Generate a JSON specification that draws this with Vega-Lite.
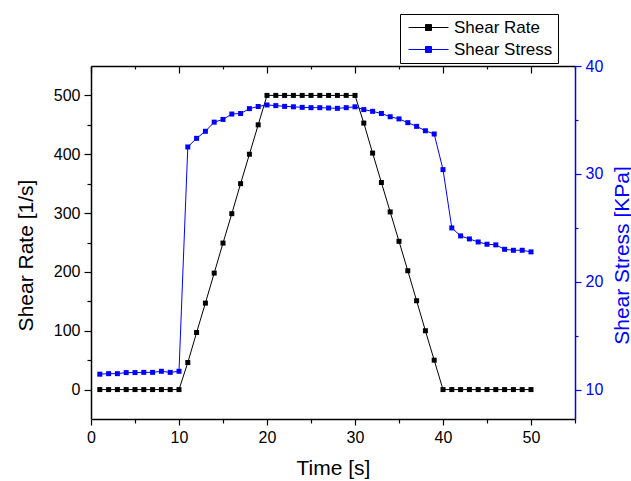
{
  "$schema": "https://vega.github.io/schema/vega-lite/v6.json",
  "width": 484,
  "height": 353,
  "autosize": {"type": "none"},
  "padding": {"left": 91, "top": 66, "right": 56, "bottom": 62},
  "background": "white",
  "config": {
    "font": "Liberation Sans",
    "view": {"stroke": null},
    "axis": {
      "grid": false,
      "labelFont": "Liberation Sans",
      "titleFont": "Liberation Sans",
      "labelFontSize": 16,
      "titleFontSize": 21,
      "titleFontWeight": "normal",
      "labelColor": "black",
      "titleColor": "black",
      "domainColor": "black",
      "tickColor": "black",
      "domainWidth": 1.5,
      "tickWidth": 1.2
    },
    "legend": {"labelFont": "Liberation Sans"}
  },
  "datasets": {
    "d": [
      {"t": 1, "series": "Shear Rate", "value": 0}, {"t": 2, "series": "Shear Rate", "value": 0},
      {"t": 3, "series": "Shear Rate", "value": 0}, {"t": 4, "series": "Shear Rate", "value": 0},
      {"t": 5, "series": "Shear Rate", "value": 0}, {"t": 6, "series": "Shear Rate", "value": 0},
      {"t": 7, "series": "Shear Rate", "value": 0}, {"t": 8, "series": "Shear Rate", "value": 0},
      {"t": 9, "series": "Shear Rate", "value": 0}, {"t": 10, "series": "Shear Rate", "value": 0},
      {"t": 11, "series": "Shear Rate", "value": 46}, {"t": 12, "series": "Shear Rate", "value": 97},
      {"t": 13, "series": "Shear Rate", "value": 147}, {"t": 14, "series": "Shear Rate", "value": 198},
      {"t": 15, "series": "Shear Rate", "value": 249}, {"t": 16, "series": "Shear Rate", "value": 299},
      {"t": 17, "series": "Shear Rate", "value": 350}, {"t": 18, "series": "Shear Rate", "value": 400},
      {"t": 19, "series": "Shear Rate", "value": 450}, {"t": 20, "series": "Shear Rate", "value": 500},
      {"t": 21, "series": "Shear Rate", "value": 500}, {"t": 22, "series": "Shear Rate", "value": 500},
      {"t": 23, "series": "Shear Rate", "value": 500}, {"t": 24, "series": "Shear Rate", "value": 500},
      {"t": 25, "series": "Shear Rate", "value": 500}, {"t": 26, "series": "Shear Rate", "value": 500},
      {"t": 27, "series": "Shear Rate", "value": 500}, {"t": 28, "series": "Shear Rate", "value": 500},
      {"t": 29, "series": "Shear Rate", "value": 500}, {"t": 30, "series": "Shear Rate", "value": 500},
      {"t": 31, "series": "Shear Rate", "value": 453}, {"t": 32, "series": "Shear Rate", "value": 402},
      {"t": 33, "series": "Shear Rate", "value": 352}, {"t": 34, "series": "Shear Rate", "value": 302},
      {"t": 35, "series": "Shear Rate", "value": 252}, {"t": 36, "series": "Shear Rate", "value": 202},
      {"t": 37, "series": "Shear Rate", "value": 151}, {"t": 38, "series": "Shear Rate", "value": 100},
      {"t": 39, "series": "Shear Rate", "value": 50}, {"t": 40, "series": "Shear Rate", "value": 0},
      {"t": 41, "series": "Shear Rate", "value": 0}, {"t": 42, "series": "Shear Rate", "value": 0},
      {"t": 43, "series": "Shear Rate", "value": 0}, {"t": 44, "series": "Shear Rate", "value": 0},
      {"t": 45, "series": "Shear Rate", "value": 0}, {"t": 46, "series": "Shear Rate", "value": 0},
      {"t": 47, "series": "Shear Rate", "value": 0}, {"t": 48, "series": "Shear Rate", "value": 0},
      {"t": 49, "series": "Shear Rate", "value": 0}, {"t": 50, "series": "Shear Rate", "value": 0},
      {"t": 1, "series": "Shear Stress", "value": 11.45}, {"t": 2, "series": "Shear Stress", "value": 11.5},
      {"t": 3, "series": "Shear Stress", "value": 11.5}, {"t": 4, "series": "Shear Stress", "value": 11.6},
      {"t": 5, "series": "Shear Stress", "value": 11.6}, {"t": 6, "series": "Shear Stress", "value": 11.62},
      {"t": 7, "series": "Shear Stress", "value": 11.62}, {"t": 8, "series": "Shear Stress", "value": 11.72},
      {"t": 9, "series": "Shear Stress", "value": 11.62}, {"t": 10, "series": "Shear Stress", "value": 11.72},
      {"t": 11, "series": "Shear Stress", "value": 32.5}, {"t": 12, "series": "Shear Stress", "value": 33.3},
      {"t": 13, "series": "Shear Stress", "value": 33.95}, {"t": 14, "series": "Shear Stress", "value": 34.8},
      {"t": 15, "series": "Shear Stress", "value": 35.05}, {"t": 16, "series": "Shear Stress", "value": 35.55},
      {"t": 17, "series": "Shear Stress", "value": 35.6}, {"t": 18, "series": "Shear Stress", "value": 36.05},
      {"t": 19, "series": "Shear Stress", "value": 36.25}, {"t": 20, "series": "Shear Stress", "value": 36.39},
      {"t": 21, "series": "Shear Stress", "value": 36.33}, {"t": 22, "series": "Shear Stress", "value": 36.26},
      {"t": 23, "series": "Shear Stress", "value": 36.22}, {"t": 24, "series": "Shear Stress", "value": 36.17},
      {"t": 25, "series": "Shear Stress", "value": 36.14}, {"t": 26, "series": "Shear Stress", "value": 36.14},
      {"t": 27, "series": "Shear Stress", "value": 36.11}, {"t": 28, "series": "Shear Stress", "value": 36.08},
      {"t": 29, "series": "Shear Stress", "value": 36.14}, {"t": 30, "series": "Shear Stress", "value": 36.22},
      {"t": 31, "series": "Shear Stress", "value": 35.96}, {"t": 32, "series": "Shear Stress", "value": 35.8},
      {"t": 33, "series": "Shear Stress", "value": 35.6}, {"t": 34, "series": "Shear Stress", "value": 35.3},
      {"t": 35, "series": "Shear Stress", "value": 35.1}, {"t": 36, "series": "Shear Stress", "value": 34.75},
      {"t": 37, "series": "Shear Stress", "value": 34.41}, {"t": 38, "series": "Shear Stress", "value": 34.0},
      {"t": 39, "series": "Shear Stress", "value": 33.7}, {"t": 40, "series": "Shear Stress", "value": 30.4},
      {"t": 41, "series": "Shear Stress", "value": 25.0}, {"t": 42, "series": "Shear Stress", "value": 24.26},
      {"t": 43, "series": "Shear Stress", "value": 23.98}, {"t": 44, "series": "Shear Stress", "value": 23.7},
      {"t": 45, "series": "Shear Stress", "value": 23.49}, {"t": 46, "series": "Shear Stress", "value": 23.43},
      {"t": 47, "series": "Shear Stress", "value": 23.02}, {"t": 48, "series": "Shear Stress", "value": 22.93},
      {"t": 49, "series": "Shear Stress", "value": 22.93}, {"t": 50, "series": "Shear Stress", "value": 22.78}
    ]
  },
  "data": {"name": "d"},
  "layer": [
    {
      "transform": [{"filter": "datum.series === 'Shear Rate'"}],
      "mark": {"type": "line", "strokeWidth": 1, "point": {"shape": "square", "size": 25, "filled": true, "opacity": 1}},
      "encoding": {
        "x": {
          "field": "t", "type": "quantitative",
          "scale": {"domain": [0, 55], "nice": false, "zero": false},
          "axis": {
            "orient": "bottom", "title": "Time [s]",
            "values": [0, 5, 10, 15, 20, 25, 30, 35, 40, 45, 50, 55],
            "labelExpr": "datum.value % 10 === 0 && datum.value <= 50 ? datum.label : ''",
            "tickSize": {"condition": {"test": "datum.value % 10 === 0", "value": 6}, "value": 4},
            "labelPadding": 4, "titlePadding": 12, "labelFlush": false
          }
        },
        "y": {
          "field": "value", "type": "quantitative",
          "scale": {"domain": [-50, 550], "nice": false, "zero": false},
          "axis": {
            "orient": "left", "title": "Shear Rate [1/s]",
            "values": [0, 50, 100, 150, 200, 250, 300, 350, 400, 450, 500],
            "labelExpr": "datum.value % 100 === 0 ? datum.label : ''",
            "tickSize": {"condition": {"test": "datum.value % 100 === 0", "value": 7}, "value": 4},
            "labelPadding": 4, "titlePadding": 17, "titleY": 189, "labelFlush": false
          }
        },
        "color": {
          "field": "series", "type": "nominal",
          "scale": {"domain": ["Shear Rate", "Shear Stress"], "range": ["black", "blue"]},
          "legend": {
            "title": null,
            "orient": "none",
            "legendX": 309,
            "legendY": -52,
            "strokeColor": "black",
            "fillColor": "white",
            "padding": 5,
            "labelFontSize": 17,
            "labelColor": "black",
            "symbolSize": 100,
            "symbolOffset": 15,
            "labelOffset": 17,
            "rowPadding": 4,
            "symbolType": "M-4,0L4,0M-0.6,-0.6L0.6,-0.6L0.6,0.6L-0.6,0.6Z",
            "symbolStrokeWidth": 1,
            "encode": {"symbols": {"update": {"fill": {"scale": "color", "field": "value"}, "stroke": {"scale": "color", "field": "value"}}}}
          }
        }
      }
    },
    {
      "transform": [{"filter": "datum.series === 'Shear Stress'"}],
      "mark": {"type": "line", "strokeWidth": 1, "point": {"shape": "square", "size": 25, "filled": true, "opacity": 1}},
      "encoding": {
        "x": {
          "field": "t", "type": "quantitative",
          "scale": {"domain": [0, 55], "nice": false, "zero": false},
          "axis": {
            "orient": "top", "title": null, "labels": false,
            "values": [0, 5, 10, 15, 20, 25, 30, 35, 40, 45, 50, 55],
            "tickSize": {"condition": {"test": "datum.value % 10 === 0", "value": -7}, "value": -3}
          }
        },
        "y": {
          "field": "value", "type": "quantitative",
          "scale": {"domain": [7.3, 40], "nice": false, "zero": false},
          "axis": {
            "orient": "right", "title": "Shear Stress [KPa]",
            "titleAngle": 270,
            "values": [10, 15, 20, 25, 30, 35, 40],
            "labelExpr": "datum.value % 10 === 0 ? datum.label : ''",
            "tickSize": {"condition": {"test": "datum.value % 10 === 0", "value": 6}, "value": 3},
            "labelPadding": 4, "titlePadding": 30, "titleY": 189, "labelFlush": false,
            "domainColor": "blue", "tickColor": "blue", "labelColor": "blue", "titleColor": "blue"
          }
        },
        "color": {"field": "series", "type": "nominal"}
      }
    }
  ],
  "resolve": {"scale": {"y": "independent"}, "axis": {"x": "independent"}}
}
